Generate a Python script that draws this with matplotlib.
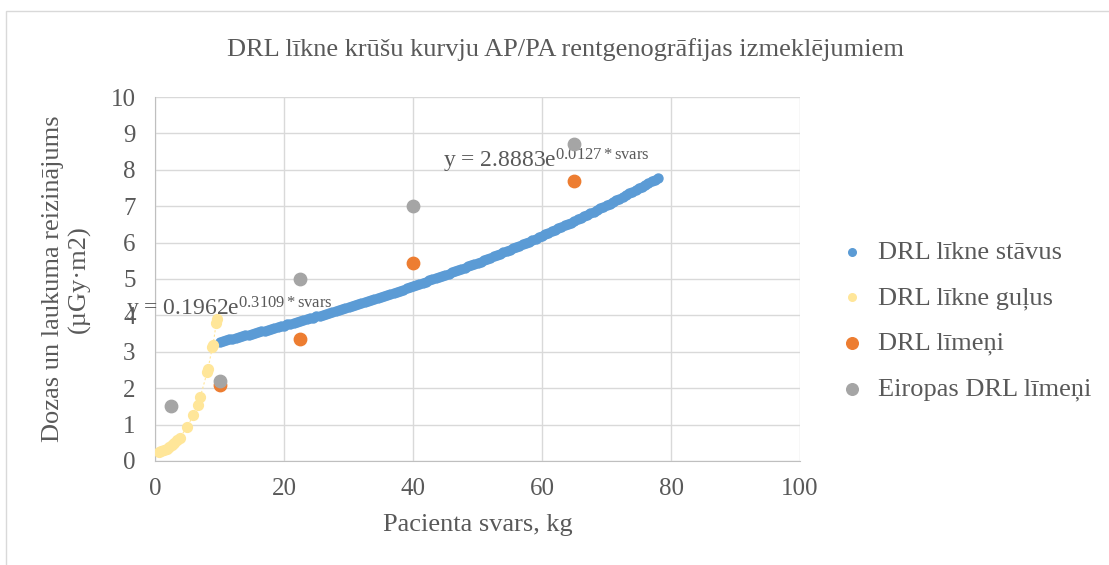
import numpy as np
import matplotlib.pyplot as plt
from matplotlib.patches import Rectangle

plt.rcParams['font.family'] = ['Liberation Serif', 'DejaVu Serif']
plt.rcParams['mathtext.fontset'] = 'custom'
plt.rcParams['mathtext.rm'] = 'Liberation Serif'
plt.rcParams['mathtext.it'] = 'Liberation Serif:italic'

# DRL līkne stāvus (blue, every 0.5 kg from 10 to 78)
stavus_x = np.arange(10, 78.5, 0.5)
stavus_y = [3.28, 3.30, 3.32, 3.34, 3.36, 3.39, 3.41, 3.43, 3.45, 3.47,
            3.49, 3.52, 3.54, 3.56, 3.58, 3.61, 3.63, 3.65, 3.68, 3.70,
            3.72, 3.75, 3.77, 3.80, 3.82, 3.84, 3.87, 3.89, 3.92, 3.94,
            3.97, 3.99, 4.02, 4.04, 4.07, 4.10, 4.12, 4.15, 4.17, 4.20,
            4.23, 4.25, 4.28, 4.31, 4.34, 4.36, 4.39, 4.42, 4.45, 4.48,
            4.50, 4.53, 4.56, 4.59, 4.62, 4.65, 4.68, 4.71, 4.74, 4.77,
            4.80, 4.83, 4.86, 4.89, 4.92, 4.96, 4.99, 5.02, 5.05, 5.08,
            5.11, 5.15, 5.18, 5.21, 5.25, 5.28, 5.31, 5.35, 5.38, 5.42,
            5.45, 5.48, 5.52, 5.56, 5.59, 5.63, 5.66, 5.70, 5.73, 5.77,
            5.81, 5.84, 5.88, 5.92, 5.96, 5.99, 6.03, 6.07, 6.11, 6.15,
            6.19, 6.23, 6.27, 6.31, 6.35, 6.39, 6.43, 6.47, 6.51, 6.55,
            6.59, 6.64, 6.68, 6.72, 6.76, 6.81, 6.85, 6.89, 6.94, 6.98,
            7.03, 7.07, 7.12, 7.16, 7.21, 7.25, 7.30, 7.35, 7.39, 7.44,
            7.49, 7.53, 7.58, 7.63, 7.68, 7.73, 7.78]

# DRL līkne guļus (yellow)
gulus_x = [0.6, 1.0, 1.4, 1.8, 2.2, 2.6, 3.0, 3.4, 3.8, 5.0, 5.9, 6.6, 7.0, 8.1, 8.2, 8.9, 9.0, 9.5, 9.6]
gulus_y = [0.24, 0.27, 0.30, 0.34, 0.39, 0.44, 0.50, 0.57, 0.64, 0.93, 1.26, 1.54, 1.75, 2.45, 2.52, 3.14, 3.20, 3.80, 3.90]

# DRL līmeņi (orange)
limeni_x = [10, 22.5, 40, 65]
limeni_y = [2.08, 3.35, 5.45, 7.70]

# Eiropas DRL līmeņi (gray)
eiropas_x = [2.5, 10, 22.5, 40, 65]
eiropas_y = [1.5, 2.2, 5.0, 7.0, 8.7]

text_col = '#595959'

fig = plt.figure(figsize=(11.09, 5.65), dpi=100)
fig.patches.append(Rectangle((0.005, -0.01), 1.0, 0.99, transform=fig.transFigure,
                             fill=False, edgecolor='#D9D9D9', linewidth=1))
ax = fig.add_axes([0.1398, 0.1841, 0.5816, 0.6442])

ax.plot(gulus_x, gulus_y, color='#FFE699', linewidth=0.8, linestyle=(0, (2, 2)), zorder=2)
ax.scatter(stavus_x, stavus_y, s=42, color='#5B9BD5', zorder=3, label='DRL līkne stāvus')
ax.scatter(gulus_x, gulus_y, s=50, color='#FFE699', zorder=3, label='DRL līkne guļus')
ax.scatter(limeni_x, limeni_y, s=80, color='#ED7D31', zorder=4, label='DRL līmeņi')
ax.scatter(eiropas_x, eiropas_y, s=80, color='#A5A5A5', zorder=4, label='Eiropas DRL līmeņi')

ax.set_xlim(0, 100)
ax.set_ylim(0, 10)
ax.set_xticks(range(0, 101, 20))
ax.set_yticks(range(0, 11))
ax.grid(True, color='#D9D9D9', linewidth=1)
ax.set_axisbelow(True)
for s in ax.spines.values():
    s.set_visible(False)
ax.spines['left'].set_visible(True)
ax.spines['bottom'].set_visible(True)
ax.spines['left'].set_color('#BFBFBF')
ax.spines['bottom'].set_color('#BFBFBF')
ax.tick_params(length=0, labelsize=18, colors=text_col)
ax.tick_params(axis='x', pad=12)
ax.tick_params(axis='y', pad=14)

ax.set_xlabel('Pacienta svars, kg', fontsize=19, color=text_col, labelpad=10)
ax.set_ylabel('Dozas un laukuma reizinājums\n(µGy·m2)', fontsize=19, color=text_col)
ax.yaxis.set_label_coords(-0.1, 0.5)
fig.text(0.51, 0.9115, 'DRL līkne krūšu kurvju AP/PA rentgenogrāfijas izmeklējumiem',
         ha='center', va='center', fontsize=19, color=text_col)

# trendline equations
ax.text(44.7, 8.05, r'y = 2.8883e$^{\mathrm{0.0127*svars}}$', fontsize=17, color=text_col)
ax.text(-4.5, 4.0, r'y = 0.1962e$^{\mathrm{0.3109*svars}}$', fontsize=17, color=text_col)

leg = fig.legend(loc='center left', bbox_to_anchor=(0.735, 0.432), frameon=False, fontsize=19,
                 handletextpad=0.0, labelspacing=0.82, borderaxespad=0.0)
for t in leg.get_texts():
    t.set_color(text_col)
for h, sz in zip(leg.legend_handles, [30, 30, 70, 70]):
    h.set_sizes([sz])

fig.savefig('out.png', dpi=100)
